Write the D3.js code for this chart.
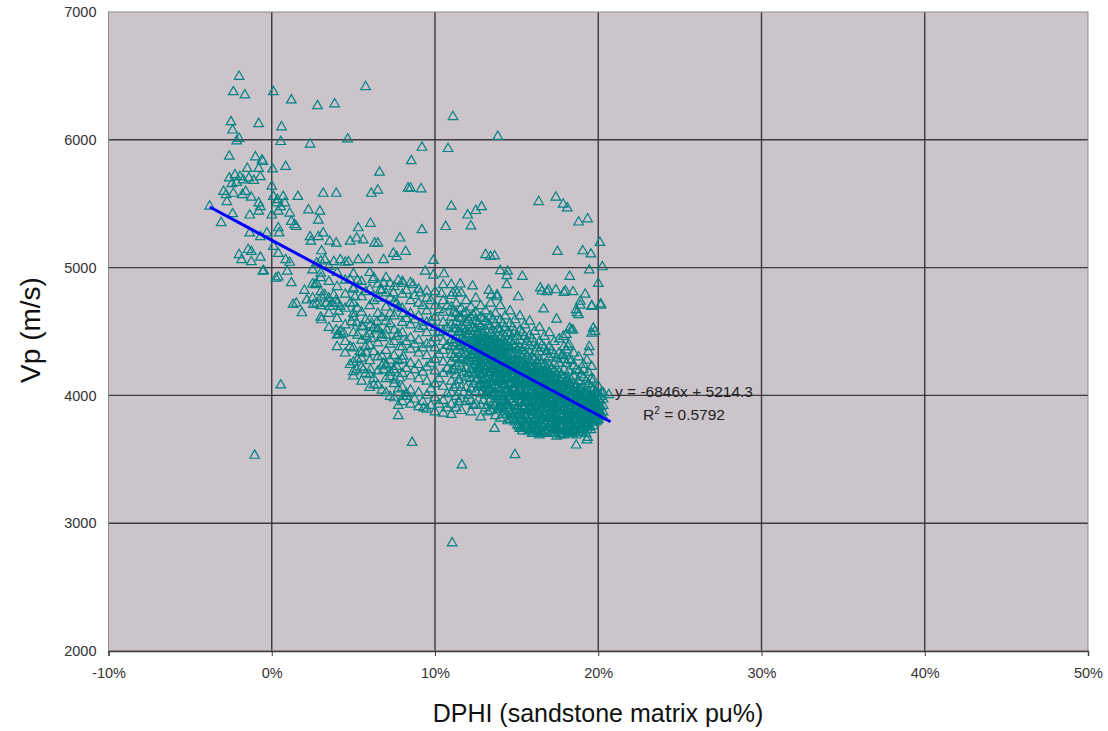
<!DOCTYPE html>
<html>
<head>
<meta charset="utf-8">
<script src="https://cdn.jsdelivr.net/npm/d3@7"></script>
<style>
  body { margin: 0; background: #fff; }
  svg { display: block; font-family: "Liberation Sans", Arial, sans-serif; }
</style>
</head>
<body>
<div id="chart"></div>
<script>
// Axis ticks
const xTicks = [-10, 0, 10, 20, 30, 40, 50];      // DPHI, percent
const yTicks = [2000, 3000, 4000, 5000, 6000, 7000]; // Vp, m/s

// Fitted line: y = -6846x + 5214.3 (x as fraction)
const fitSlope = -6846;
const fitIntercept = 5214.3;
const fitRange = [-3.8, 20.75]; // percent
const fitLabel = "y = -6846x + 5214.3";
const r2Label = "0.5792";

// Individual scattered samples [DPHI %, Vp m/s]
const samples = [
  [-2.0,6495],[-2.35,6375],[-1.65,6350],[0.1,6375],[1.2,6310],[2.8,6265],[3.85,6280],[5.75,6415],
  [-2.5,6140],[-2.4,6075],[-0.8,6125],[0.6,6100],[-2.15,5990],[-2.0,6010],[0.55,5985],[2.35,5965],[4.65,6005],
  [-2.6,5870],[-1.0,5865],[-0.6,5840],[0.05,5770],[0.85,5790],[6.6,5745],[8.35,5620],
  [-1.5,5775],[-0.8,5775],[-0.55,5830],[-1.95,5710],[-2.25,5725],[-2.6,5700],[-1.75,5685],[-1.4,5700],[-1.1,5680],[-0.7,5710],[-2.45,5655],[-2.15,5665],
  [-2.95,5595],[-2.8,5570],[-2.75,5515],[-2.35,5580],[-1.8,5570],[-1.6,5595],[-1.25,5550],[-0.8,5505],[0,5635],[0.1,5555],[0.35,5530],[0.7,5555],
  [1.6,5555],[3.15,5580],[3.95,5580],[6.1,5580],[6.5,5605],
  [-3.8,5480],[-3.1,5350],[-2.4,5420],
  [-1.35,5410],[-0.8,5440],[-0.7,5475],[0,5410],[0.4,5440],[0.3,5505],[0.55,5475],[0.8,5505],[1.1,5425],[1.2,5360],[1.4,5335],[1.5,5320],
  [2.25,5450],[2.95,5440],[2.85,5370],[5.3,5310],[6.05,5345],[7.85,5230],[8.2,5125],
  [-1.35,5270],[-0.7,5240],[-0.3,5270],[0.4,5310],[0.45,5270],[-1.45,5140],[-1.25,5125],[-2.0,5100],[-1.85,5060],[-1.25,5045],[-0.7,5080],[-0.5,4975],[0.1,5165],[0.4,5110],[0.85,5060],[1.1,5040],
  [2.35,5240],[2.85,5240],[3.15,5270],[2.4,5205],[3.05,5130],[3.55,5205],[3.95,5190],[4.8,5205],[5.2,5230],[5.6,5215],[6.3,5190],[6.5,5190],[6.85,5060],[7.45,5110],[7.65,5085],[5.9,5060],[5.3,5060],[4.7,5045],[4.2,5060],[3.8,5045],[3.25,5060],[2.75,5035],
  [11.1,6180],[13.85,6025],[9.2,5940],[10.8,5930],[8.55,5835],[8.5,5620],[9.15,5615],[11.0,5480],[12.0,5410],[12.5,5445],[12.85,5475],[10.65,5320],[12.2,5325],[9.2,5295],
  [16.35,5515],[17.4,5550],[17.85,5495],[18.1,5465],[18.8,5355],[19.35,5380],[20.1,5195],[17.5,5125],[19.05,5130],[19.55,5105],
  [13.1,5100],[13.4,5085],[13.65,5090],[9.9,5055],[20.25,5005],[19.45,4980],[18.25,4930],[20.0,4875],
  [14.0,4975],[14.45,4970],[14.4,4935],[15.35,4930],[9.4,4970],[9.9,4940],[10.55,4950],[8.65,4865],[8.0,4890],
  [10.5,4865],[11.0,4865],[11.55,4870],[12.3,4855],[13.3,4820],[13.8,4785],[14.4,4865],[16.45,4840],[16.85,4810],[17.4,4825],[17.9,4805],[18.45,4810],[19.2,4790],
  [18.0,4815],[18.9,4735],[18.65,4670],[18.8,4630],[19.6,4695],[20.15,4705],[19.7,4525],[19.6,4485],[19.8,4500],[18.25,4525],[18.45,4510],[18.05,4475],[17.85,4460],
  [19.45,4380],[19.4,4340],[19.3,4275],[19.6,4225],[19.1,4200],[19.55,4125],[19.7,4045],[20.2,4020],[20.65,4005],[18.05,4355],[17.85,4315],[18.15,4380],
  [-0.55,4970],[0.25,4915],[0.4,4925],[0.95,4970],[1.2,4880],[2.0,4820],[2.15,4745],[1.3,4710],[1.5,4720],[1.85,4645],[2.65,4865],[2.75,4875],[3.0,4955],
  [2.55,4710],[2.75,4720],[3.05,4590],[3.05,4770],[3.25,4785],[3.35,4720],[3.95,4510],[4.2,4500],[4.4,4485],[4.1,4475],[3.8,4785],[3.95,4745],[4.2,4695],[4.1,4655],[3.7,4720],
  [4.8,4905],[5.0,4840],[5.1,4770],[4.8,4720],[5.0,4640],[4.9,4575],[5.2,4565],[4.8,4380],[5.4,4340],[5.8,4330],[5.5,4290],[4.8,4240],[5.0,4185],[5.2,4200],[5.6,4200],[6.05,4200],[6.25,4080],
  [5.6,4535],[6.05,4550],[6.45,4510],[5.8,4460],[6.1,4445],[6.75,4475],[6.45,4575],[6.75,4305],[6.85,4250],[7.25,4275],[7.65,4225],[7.45,4200],[7.25,4145],[7.55,4120],[7.85,4135],[6.85,4200],
  [6.85,4875],[7.25,4875],[8.05,4875],[6.65,4825],[7.45,4800],[6.2,4905],[7.65,4720],[8.05,4640],[7.25,4640],[7.05,4510],[7.65,4460],[7.85,4380],[8.05,4305],
  [0.55,4080],[-1.05,3530],[7.75,3840],[8.05,3990],[8.25,4015],[3.55,4695],
  [8.6,3630],[11.65,3455],[14.9,3535],[18.65,3610],[19.3,3650],[11.05,2845],
  [13.65,3740],[19.35,3670],[9.3,3900],[16.65,4675],[17.45,4595],[18.35,4510],[18.9,4705],[19.6,4700],[20.15,4715],[18.7,4645],
  [16.55,4815],[16.95,4825],[15.1,4770],[13.45,4785],[13.8,4770],[11.35,4800],[11.1,4800],[10.4,4795],[9.5,4815],[9.1,4800]
];

// Crowded part of the cloud, read column by column: [DPHI %, [Vp ...]]
const denseColumns = [
  [2.5, [4980, 4870, 4760]],
  [3.0, [5050, 4920, 4810, 4700, 4610]],
  [3.5, [5010, 4890, 4760, 4640, 4530]],
  [4.0, [4960, 4850, 4720, 4600, 4470, 4380]],
  [4.5, [5040, 4900, 4790, 4680, 4550, 4420, 4330]],
  [5.0, [4950, 4830, 4720, 4610, 4490, 4370, 4260, 4150]],
  [5.25, [4900, 4680, 4470, 4280]],
  [5.5, [4890, 4770, 4650, 4540, 4430, 4330, 4220, 4110]],
  [5.75, [4810, 4590, 4380, 4170]],
  [6.0, [4960, 4830, 4700, 4590, 4480, 4390, 4270, 4160, 4060]],
  [6.25, [4920, 4740, 4530, 4340, 4130]],
  [6.5, [4870, 4760, 4640, 4520, 4410, 4300, 4190, 4080]],
  [6.75, [4820, 4610, 4450, 4230, 4040]],
  [7.0, [4920, 4800, 4690, 4580, 4470, 4350, 4240, 4130, 4020]],
  [7.25, [4760, 4560, 4400, 4180, 3990]],
  [7.5, [4850, 4730, 4620, 4510, 4420, 4310, 4200, 4090, 3980]],
  [7.75, [4900, 4690, 4480, 4270, 4050, 3920]],
  [8.0, [4790, 4680, 4570, 4490, 4380, 4280, 4170, 4060, 3950]],
  [8.25, [4820, 4600, 4420, 4210, 3990]],
  [8.5, [4880, 4740, 4640, 4550, 4450, 4360, 4250, 4150, 4040, 3930]],
  [8.75, [4780, 4590, 4400, 4200, 3970]],
  [9.0, [4830, 4720, 4620, 4520, 4430, 4330, 4240, 4130, 4020, 3910]],
  [9.25, [4700, 4540, 4370, 4180, 3950]],
  [9.5, [4760, 4660, 4570, 4490, 4400, 4310, 4220, 4110, 4000, 3890]],
  [9.75, [4740, 4580, 4410, 4250, 4050, 3920]],
  [10.0, [4810, 4700, 4610, 4530, 4450, 4370, 4280, 4190, 4090, 3980, 3870]],
  [10.25, [4670, 4490, 4320, 4130, 3930]],
  [10.5, [4740, 4650, 4570, 4500, 4420, 4350, 4260, 4170, 4070, 3960, 3860]],
  [10.75, [4700, 4530, 4390, 4210, 4010, 3900]],
  [11.0, [4780, 4690, 4610, 4550, 4490, 4430, 4380, 4320, 4260, 4190, 4110, 4020, 3930, 3850]],
  [11.15, [4650, 4520, 4410, 4300, 4200, 4060]],
  [11.3, [4720, 4640, 4570, 4520, 4460, 4410, 4350, 4290, 4230, 4160, 4080, 3990, 3900]],
  [11.45, [4610, 4500, 4380, 4250, 4120, 3950]],
  [11.6, [4800, 4680, 4600, 4540, 4490, 4440, 4390, 4330, 4280, 4220, 4150, 4060, 3970, 3880]],
  [11.75, [4640, 4520, 4410, 4300, 4180, 4020]],
  [11.9, [4740, 4650, 4570, 4510, 4470, 4420, 4370, 4320, 4270, 4210, 4140, 4060, 3950]],
  [12.05, [4590, 4480, 4390, 4290, 4170, 4000]],
  [12.2, [4690, 4610, 4550, 4500, 4450, 4410, 4360, 4310, 4260, 4200, 4130, 4050, 3960, 3870]],
  [12.35, [4630, 4530, 4430, 4330, 4230, 4090, 3920]],
  [12.5, [4760, 4650, 4580, 4520, 4470, 4430, 4390, 4340, 4290, 4240, 4180, 4110, 4030, 3930]],
  [12.65, [4560, 4490, 4410, 4320, 4210, 4070]],
  [12.8, [4700, 4610, 4540, 4490, 4440, 4400, 4360, 4320, 4270, 4220, 4160, 4090, 4010, 3920, 3830]],
  [12.95, [4600, 4480, 4400, 4320, 4230, 4120, 3960]],
  [13.1, [4660, 4580, 4510, 4460, 4420, 4380, 4340, 4300, 4250, 4200, 4140, 4080, 4000, 3900]],
  [13.25, [4550, 4440, 4360, 4280, 4180, 4040, 3870]],
  [13.4, [4720, 4620, 4540, 4480, 4430, 4390, 4350, 4310, 4270, 4230, 4180, 4120, 4050, 3970, 3880]],
  [13.55, [4590, 4460, 4370, 4290, 4210, 4100, 3940]],
  [13.7, [4640, 4560, 4490, 4440, 4400, 4360, 4320, 4280, 4240, 4190, 4140, 4080, 4010, 3930, 3840]],
  [13.85, [4520, 4420, 4340, 4260, 4170, 4060, 3890]],
  [14.0, [4700, 4590, 4510, 4450, 4400, 4360, 4320, 4280, 4240, 4200, 4160, 4110, 4050, 3990, 3910, 3820]],
  [14.15, [4560, 4430, 4340, 4260, 4180, 4090, 3960, 3850]],
  [14.3, [4620, 4530, 4460, 4410, 4370, 4330, 4290, 4250, 4210, 4170, 4130, 4080, 4020, 3950, 3870]],
  [14.45, [4490, 4390, 4310, 4230, 4150, 4050, 3920, 3800]],
  [14.6, [4660, 4560, 4480, 4420, 4370, 4320, 4280, 4240, 4200, 4160, 4120, 4080, 4030, 3970, 3900, 3810]],
  [14.75, [4530, 4400, 4310, 4230, 4150, 4060, 3950, 3830]],
  [14.9, [4590, 4500, 4430, 4380, 4330, 4290, 4250, 4210, 4170, 4130, 4090, 4050, 4000, 3940, 3870, 3790]],
  [15.05, [4460, 4360, 4270, 4190, 4110, 4020, 3910, 3770]],
  [15.2, [4620, 4510, 4430, 4370, 4320, 4270, 4230, 4190, 4150, 4110, 4070, 4030, 3990, 3940, 3880, 3810, 3740]],
  [15.35, [4490, 4350, 4250, 4170, 4090, 4010, 3920, 3820, 3720]],
  [15.5, [4550, 4460, 4390, 4330, 4280, 4240, 4200, 4160, 4120, 4080, 4040, 4000, 3960, 3910, 3850, 3780]],
  [15.65, [4420, 4310, 4220, 4140, 4060, 3980, 3880, 3760]],
  [15.8, [4580, 4470, 4390, 4330, 4270, 4220, 4180, 4140, 4100, 4060, 4020, 3980, 3940, 3900, 3850, 3790, 3730]],
  [15.95, [4440, 4300, 4200, 4120, 4040, 3960, 3870, 3760, 3700]],
  [16.1, [4500, 4410, 4340, 4280, 4230, 4190, 4150, 4110, 4070, 4030, 3990, 3950, 3910, 3870, 3820, 3760]],
  [16.25, [4370, 4260, 4170, 4090, 4010, 3930, 3840, 3720]],
  [16.4, [4530, 4420, 4340, 4270, 4220, 4170, 4130, 4090, 4050, 4010, 3970, 3930, 3890, 3850, 3800, 3740, 3690]],
  [16.55, [4390, 4250, 4150, 4070, 3990, 3910, 3820, 3710]],
  [16.7, [4460, 4370, 4300, 4240, 4190, 4150, 4110, 4070, 4030, 3990, 3950, 3910, 3870, 3830, 3780, 3720]],
  [16.85, [4340, 4220, 4130, 4050, 3970, 3890, 3800, 3700]],
  [17.0, [4490, 4380, 4300, 4230, 4180, 4140, 4100, 4060, 4020, 3980, 3940, 3900, 3860, 3820, 3780, 3730]],
  [17.15, [4350, 4210, 4120, 4040, 3960, 3880, 3790, 3710]],
  [17.3, [4420, 4320, 4250, 4190, 4140, 4100, 4060, 4020, 3980, 3940, 3900, 3860, 3820, 3780, 3740, 3700]],
  [17.45, [4290, 4170, 4080, 4000, 3920, 3840, 3760, 3680]],
  [17.6, [4440, 4330, 4250, 4180, 4130, 4090, 4050, 4010, 3970, 3930, 3890, 3850, 3810, 3770, 3730]],
  [17.75, [4310, 4160, 4070, 3990, 3910, 3830, 3750, 3700]],
  [17.9, [4380, 4280, 4200, 4140, 4090, 4050, 4010, 3970, 3930, 3890, 3850, 3810, 3770, 3730, 3690]],
  [18.05, [4250, 4130, 4050, 3970, 3890, 3810, 3730]],
  [18.2, [4400, 4280, 4190, 4120, 4070, 4030, 3990, 3950, 3910, 3870, 3830, 3790, 3750, 3710]],
  [18.35, [4270, 4120, 4020, 3940, 3860, 3780, 3700]],
  [18.5, [4330, 4230, 4150, 4090, 4040, 4000, 3960, 3920, 3880, 3840, 3800, 3760, 3720]],
  [18.65, [4200, 4080, 4000, 3920, 3840, 3760, 3690]],
  [18.8, [4300, 4190, 4110, 4050, 4010, 3970, 3930, 3890, 3850, 3810, 3770, 3730]],
  [18.95, [4160, 4050, 3960, 3880, 3800, 3720]],
  [19.1, [4240, 4140, 4070, 4020, 3980, 3940, 3900, 3860, 3820, 3780, 3740]],
  [19.25, [4110, 4010, 3930, 3850, 3770, 3700]],
  [19.4, [4180, 4090, 4030, 3990, 3950, 3910, 3870, 3830, 3790, 3750]],
  [19.55, [4060, 3970, 3890, 3810, 3730]],
  [19.7, [4120, 4050, 4000, 3960, 3920, 3880, 3840, 3800, 3760]],
  [19.85, [4030, 3950, 3870, 3790]],
  [20.0, [4070, 4010, 3970, 3930, 3890, 3850, 3810]],
  [20.15, [3990, 3910, 3840]],
  [20.3, [4020, 3970, 3920, 3870, 3830]]
];

// Solid core of the cloud, read in finer columns: [DPHI %, [Vp ...]]
const coreColumns = [
  [12.425, [4420, 4350, 4270, 4160]],
  [12.575, [4380, 4310, 4220, 4130]],
  [12.725, [4450, 4370, 4290, 4190, 4080]],
  [12.875, [4410, 4330, 4250, 4160, 4060]],
  [13.025, [4440, 4360, 4270, 4170, 4060]],
  [13.175, [4400, 4320, 4230, 4130, 4030]],
  [13.325, [4420, 4340, 4250, 4150, 4040, 3950]],
  [13.475, [4380, 4300, 4210, 4110, 4010]],
  [13.625, [4410, 4330, 4230, 4130, 4020, 3920]],
  [13.775, [4370, 4290, 4200, 4100, 3990]],
  [13.925, [4390, 4300, 4210, 4110, 4000, 3900]],
  [14.075, [4350, 4260, 4170, 4070, 3970]],
  [14.225, [4380, 4290, 4190, 4090, 3980, 3890]],
  [14.375, [4330, 4240, 4140, 4040, 3940, 3850]],
  [14.525, [4250, 4140, 4010, 3880]],
  [14.675, [4190, 4100, 3990, 3860]],
  [14.825, [4270, 4160, 4040, 3920, 3810]],
  [14.975, [4230, 4120, 4010, 3890, 3800]],
  [15.125, [4210, 4090, 3970, 3850, 3760]],
  [15.275, [4250, 4140, 4040, 3950, 3840, 3750]],
  [15.425, [4200, 4100, 4000, 3900, 3800, 3740]],
  [15.575, [4230, 4130, 4030, 3940, 3830, 3750]],
  [15.725, [4180, 4090, 3990, 3890, 3800, 3720]],
  [15.875, [4210, 4110, 4010, 3920, 3820, 3740]],
  [16.025, [4160, 4060, 3970, 3880, 3790, 3710]],
  [16.175, [4190, 4100, 4000, 3900, 3810, 3730]],
  [16.325, [4150, 4050, 3950, 3860, 3770, 3700]],
  [16.475, [4180, 4080, 3980, 3890, 3790, 3720]],
  [16.625, [4130, 4030, 3940, 3850, 3760, 3700]],
  [16.775, [4160, 4060, 3960, 3870, 3780, 3710]],
  [16.925, [4110, 4020, 3930, 3840, 3750]],
  [17.075, [4150, 4050, 3950, 3860, 3770, 3700]],
  [17.225, [4100, 4000, 3910, 3820, 3740]],
  [17.375, [4130, 4030, 3940, 3850, 3760, 3700]],
  [17.525, [4090, 3990, 3900, 3810, 3730]],
  [17.675, [4120, 4020, 3930, 3840, 3750, 3690]],
  [17.825, [4070, 3980, 3890, 3800, 3720]],
  [17.975, [4100, 4000, 3910, 3820, 3740]],
  [18.125, [4050, 3960, 3870, 3780, 3710]],
  [18.275, [4080, 3980, 3890, 3800, 3720]],
  [18.425, [4030, 3940, 3850, 3770, 3700]],
  [18.575, [4060, 3960, 3870, 3790, 3710]],
  [18.725, [4010, 3920, 3840, 3760]],
  [18.875, [4040, 3950, 3860, 3780, 3710]],
  [19.025, [3990, 3900, 3820, 3740]],
  [19.175, [4020, 3930, 3840, 3760]],
  [19.325, [3970, 3880, 3800, 3730]],
  [19.475, [4000, 3910, 3830, 3760]],
  [19.625, [3950, 3870, 3790]],
  [19.775, [3980, 3900, 3820]],
  [19.925, [3940, 3860, 3800]],
  [20.075, [3960, 3880]]
];

const width = 1108, height = 731;
const plot = { left: 108.5, right: 1088, top: 12, bottom: 651 };

const svg = d3.select("#chart").append("svg")
  .attr("width", width)
  .attr("height", height);

const x = d3.scaleLinear().domain([-10, 50]).range([plot.left, plot.right]);
const y = d3.scaleLinear().domain([2000, 7000]).range([plot.bottom, plot.top]);

// Plot background
svg.append("rect")
  .attr("x", plot.left).attr("y", plot.top)
  .attr("width", plot.right - plot.left).attr("height", plot.bottom - plot.top)
  .attr("fill", "#ccc4cb");

// Grid lines
svg.append("g").selectAll("line").data(yTicks.slice(1, -1)).join("line")
  .attr("x1", plot.left).attr("x2", plot.right)
  .attr("y1", d => y(d)).attr("y2", d => y(d))
  .attr("stroke", "#3c3a3c").attr("stroke-width", 1.4);

svg.append("g").selectAll("line").data(xTicks.slice(1, -1)).join("line")
  .attr("y1", plot.top).attr("y2", plot.bottom)
  .attr("x1", d => x(d)).attr("x2", d => x(d))
  .attr("stroke", "#3c3a3c").attr("stroke-width", 1.4);

// Plot border
svg.append("rect")
  .attr("x", plot.left).attr("y", plot.top)
  .attr("width", plot.right - plot.left).attr("height", plot.bottom - plot.top)
  .attr("fill", "none").attr("stroke", "#8a8a8a").attr("stroke-width", 1);

// Axes
const xAxis = d3.axisBottom(x).tickValues(xTicks).tickSize(5).tickPadding(12)
  .tickFormat(d => d + "%");
const gx = svg.append("g").attr("transform", `translate(0,${plot.bottom})`).call(xAxis);
gx.select(".domain").attr("stroke", "#3c3a3c").attr("stroke-width", 1.4);
gx.selectAll(".tick line").attr("stroke", "#3c3a3c");
gx.selectAll("text").attr("font-size", 14.5).attr("fill", "#333")
  .attr("font-family", "Liberation Sans, Arial, sans-serif");

const yAxis = d3.axisLeft(y).tickValues(yTicks).tickSize(0).tickPadding(12)
  .tickFormat(d3.format("d"));
const gy = svg.append("g").attr("transform", `translate(${plot.left},0)`).call(yAxis);
gy.select(".domain").remove();
gy.selectAll("text").attr("font-size", 14.5).attr("fill", "#333")
  .attr("font-family", "Liberation Sans, Arial, sans-serif");

// Points
const columnPoints = cols => cols.flatMap(([dx, vs]) => vs.map(v => [dx, v]));
const points = samples.concat(columnPoints(denseColumns), columnPoints(coreColumns));
const tri = d3.symbol().type(d3.symbolTriangle).size(40);

svg.append("g").selectAll("path").data(points).join("path")
  .attr("d", tri)
  .attr("transform", d => `translate(${x(d[0])},${y(d[1])})`)
  .attr("fill", "none")
  .attr("stroke", "#008282")
  .attr("stroke-width", 1.2);

// Trend line
const fit = fitRange.map(p => [p, fitSlope * p / 100 + fitIntercept]);
svg.append("path")
  .attr("d", d3.line().x(d => x(d[0])).y(d => y(d[1]))(fit))
  .attr("stroke", "#0000ff").attr("stroke-width", 3).attr("fill", "none");

// Equation labels
svg.append("text")
  .attr("x", 684).attr("y", 397)
  .attr("text-anchor", "middle").attr("font-size", 15.5).attr("fill", "#222")
  .text(fitLabel);

const r2 = svg.append("text")
  .attr("x", 684).attr("y", 420)
  .attr("text-anchor", "middle").attr("font-size", 15.5).attr("fill", "#222");
r2.append("tspan").text("R");
r2.append("tspan").attr("dy", -6).attr("font-size", 10).text("2");
r2.append("tspan").attr("dy", 6).text(" = " + r2Label);

// Axis titles
svg.append("text")
  .attr("x", 598).attr("y", 722)
  .attr("text-anchor", "middle").attr("font-size", 25).attr("fill", "#111")
  .text("DPHI (sandstone matrix pu%)");

svg.append("text")
  .attr("transform", `translate(40,330) rotate(-90)`)
  .attr("text-anchor", "middle").attr("font-size", 28).attr("fill", "#111")
  .text("Vp (m/s)");
</script>
</body>
</html>
